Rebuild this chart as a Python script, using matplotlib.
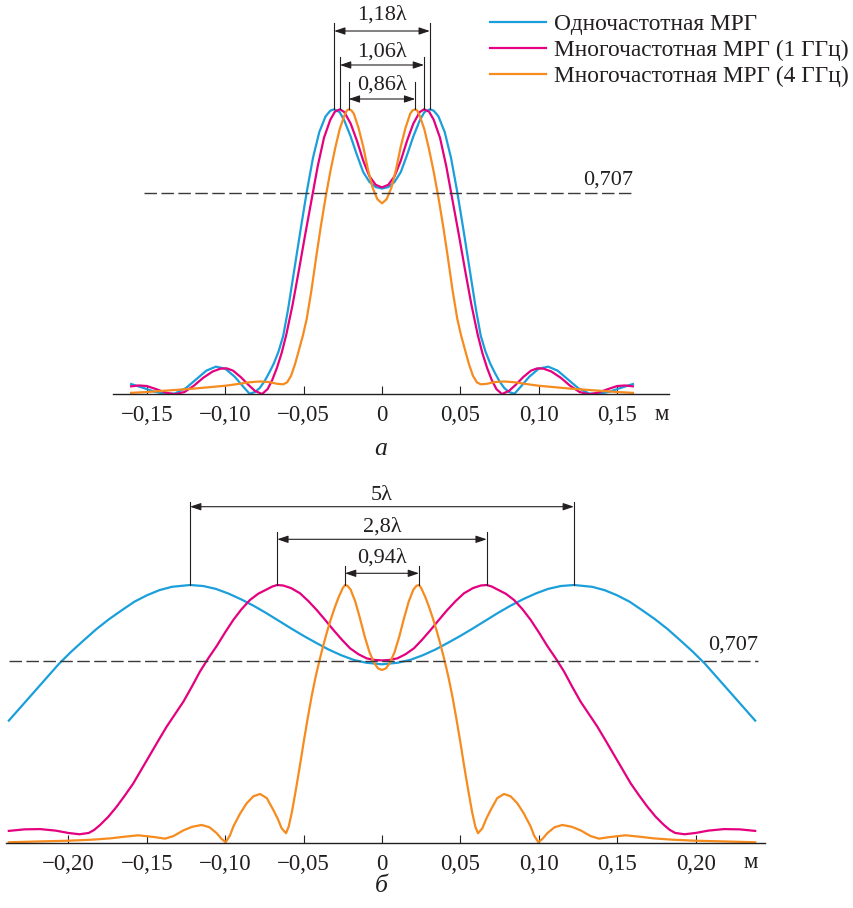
import numpy as np
import matplotlib
matplotlib.use('Agg')
import matplotlib.pyplot as plt

# ---------------- data ----------------
series_names = ['Одночастотная МРГ',
                'Многочастотная МРГ (1 ГГц)',
                'Многочастотная МРГ (4 ГГц)']

# panel "а"
a_single_x = [-0.160, -0.152, -0.145, -0.138, -0.132, -0.125, -0.118, -0.112, -0.106, -0.100,
              -0.094, -0.089, -0.0845, -0.081, -0.078, -0.075, -0.072, -0.069, -0.066, -0.063,
              -0.060, -0.056, -0.052, -0.048, -0.044, -0.040, -0.036, -0.033, -0.0305, -0.027,
              -0.024, -0.020, -0.016, -0.012, -0.008, -0.004, 0.000,
              0.004, 0.008, 0.012, 0.016, 0.020, 0.024, 0.027, 0.0305, 0.033, 0.036,
              0.040, 0.044, 0.048, 0.052, 0.056, 0.060, 0.063, 0.066, 0.069, 0.072,
              0.075, 0.078, 0.081, 0.0845, 0.089, 0.094, 0.100, 0.106, 0.112, 0.118,
              0.125, 0.132, 0.138, 0.145, 0.152, 0.160]
a_single_y = [0.036, 0.022, 0.009, 0.001, 0.003, 0.022, 0.055, 0.083, 0.097, 0.090,
              0.062, 0.030, 0.002, 0.008, 0.022, 0.045, 0.075, 0.108, 0.150, 0.205,
              0.295, 0.435, 0.575, 0.710, 0.830, 0.920, 0.975, 0.995, 1.000, 0.990,
              0.960, 0.905, 0.840, 0.780, 0.745, 0.727, 0.722,
              0.727, 0.745, 0.780, 0.840, 0.905, 0.960, 0.990, 1.000, 0.995, 0.975,
              0.920, 0.830, 0.710, 0.575, 0.435, 0.295, 0.205, 0.150, 0.108, 0.075,
              0.045, 0.022, 0.008, 0.002, 0.030, 0.062, 0.090, 0.097, 0.083, 0.055,
              0.022, 0.003, 0.001, 0.009, 0.022, 0.036]

a_multi1_x = [-0.160, -0.155, -0.150, -0.144, -0.138, -0.132, -0.126, -0.120, -0.114, -0.108,
              -0.103, -0.099, -0.095, -0.090, -0.085, -0.081, -0.0765, -0.073, -0.070, -0.067,
              -0.064, -0.061, -0.057, -0.053, -0.049, -0.045, -0.041, -0.037, -0.033, -0.030,
              -0.0268, -0.024, -0.020, -0.016, -0.012, -0.008, -0.004, 0.000,
              0.004, 0.008, 0.012, 0.016, 0.020, 0.024, 0.0268, 0.030, 0.033, 0.037,
              0.041, 0.045, 0.049, 0.053, 0.057, 0.061, 0.064, 0.067, 0.070, 0.073,
              0.0765, 0.081, 0.085, 0.090, 0.095, 0.099, 0.103, 0.108, 0.114, 0.120,
              0.126, 0.132, 0.138, 0.144, 0.150, 0.155, 0.160]
a_multi1_y = [0.028, 0.031, 0.029, 0.018, 0.006, 0.000, 0.008, 0.030, 0.058, 0.080,
              0.090, 0.091, 0.083, 0.060, 0.032, 0.012, 0.001, 0.018, 0.050, 0.093,
              0.145, 0.210, 0.315, 0.435, 0.560, 0.680, 0.800, 0.900, 0.963, 0.992,
              1.000, 0.990, 0.950, 0.890, 0.820, 0.765, 0.735, 0.726,
              0.735, 0.765, 0.820, 0.890, 0.950, 0.990, 1.000, 0.992, 0.963, 0.900,
              0.800, 0.680, 0.560, 0.435, 0.315, 0.210, 0.145, 0.093, 0.050, 0.018,
              0.001, 0.012, 0.032, 0.060, 0.083, 0.091, 0.090, 0.080, 0.058, 0.030,
              0.008, 0.000, 0.006, 0.018, 0.029, 0.031, 0.028]

a_multi4_x = [-0.160, -0.150, -0.140, -0.130, -0.120, -0.110, -0.100, -0.092, -0.085, -0.078,
              -0.072, -0.067, -0.063, -0.0605, -0.058, -0.0555, -0.053, -0.0505, -0.048, -0.045,
              -0.042, -0.039, -0.036, -0.033, -0.030, -0.027, -0.024, -0.0225, -0.0212, -0.0195,
              -0.018, -0.015, -0.012, -0.009, -0.006, -0.003, 0.000,
              0.003, 0.006, 0.009, 0.012, 0.015, 0.018, 0.0195, 0.0212, 0.0225, 0.024,
              0.027, 0.030, 0.033, 0.036, 0.039, 0.042, 0.045, 0.048, 0.0505, 0.053,
              0.0555, 0.058, 0.0605, 0.063, 0.067, 0.072, 0.078, 0.085, 0.092, 0.100,
              0.110, 0.120, 0.130, 0.140, 0.150, 0.160]
a_multi4_y = [0.005, 0.008, 0.012, 0.016, 0.020, 0.025, 0.030, 0.036, 0.042, 0.045,
              0.043, 0.037, 0.035, 0.042, 0.065, 0.105, 0.155, 0.205, 0.265, 0.365,
              0.480, 0.590, 0.690, 0.780, 0.860, 0.930, 0.978, 0.995, 1.000, 0.996,
              0.985, 0.935, 0.870, 0.790, 0.725, 0.685, 0.670,
              0.685, 0.725, 0.790, 0.870, 0.935, 0.985, 0.996, 1.000, 0.995, 0.978,
              0.930, 0.860, 0.780, 0.690, 0.590, 0.480, 0.365, 0.265, 0.205, 0.155,
              0.105, 0.065, 0.042, 0.035, 0.037, 0.043, 0.045, 0.042, 0.036, 0.030,
              0.025, 0.020, 0.016, 0.012, 0.008, 0.005]

# panel "б"
b_single_x = [-0.238, -0.230, -0.222, -0.214, -0.206, -0.198, -0.190, -0.182, -0.174, -0.166,
              -0.158, -0.150, -0.142, -0.134, -0.1224, -0.114, -0.106, -0.098, -0.090, -0.082,
              -0.074, -0.066, -0.058, -0.050, -0.042, -0.034, -0.026, -0.018, -0.010, 0.000,
              0.010, 0.018, 0.026, 0.034, 0.042, 0.050, 0.058, 0.066, 0.074, 0.082,
              0.090, 0.098, 0.106, 0.114, 0.1224, 0.134, 0.142, 0.150, 0.158, 0.166,
              0.174, 0.182, 0.190, 0.198, 0.206, 0.214, 0.222, 0.230, 0.238]
b_single_y = [0.475, 0.530, 0.585, 0.640, 0.695, 0.743, 0.787, 0.830, 0.868, 0.902,
              0.935, 0.960, 0.980, 0.993, 1.000, 0.996, 0.985, 0.967, 0.945, 0.920,
              0.892, 0.862, 0.832, 0.803, 0.776, 0.750, 0.728, 0.710, 0.699, 0.693,
              0.699, 0.710, 0.728, 0.750, 0.776, 0.803, 0.832, 0.862, 0.892, 0.920,
              0.945, 0.967, 0.985, 0.996, 1.000, 0.993, 0.980, 0.960, 0.935, 0.902,
              0.868, 0.830, 0.787, 0.743, 0.695, 0.640, 0.585, 0.530, 0.475]

b_multi1_x = [-0.238, -0.228, -0.218, -0.208, -0.200, -0.193, -0.187, -0.1835, -0.1798, -0.1745,
              -0.1692, -0.164, -0.1586, -0.1533, -0.148, -0.1427, -0.1373, -0.132, -0.1267, -0.1214,
              -0.1161, -0.1108, -0.1054, -0.100, -0.0948, -0.0895, -0.0842, -0.079, -0.0735, -0.070,
              -0.0668, -0.063, -0.058, -0.0523, -0.047, -0.0416, -0.0363, -0.031, -0.0257, -0.0204,
              -0.015, -0.0098, -0.005, 0.000,
              0.005, 0.0098, 0.015, 0.0204, 0.0257, 0.031, 0.0363, 0.0416, 0.047, 0.0523,
              0.058, 0.063, 0.0668, 0.070, 0.0735, 0.079, 0.0842, 0.0895, 0.0948, 0.100,
              0.1054, 0.1108, 0.1161, 0.1214, 0.1267, 0.132, 0.1373, 0.1427, 0.148, 0.1533,
              0.1586, 0.164, 0.1692, 0.1745, 0.1798, 0.1835, 0.187, 0.193, 0.200, 0.208,
              0.218, 0.228, 0.238]
b_multi1_y = [0.048, 0.054, 0.055, 0.049, 0.040, 0.035, 0.040, 0.052, 0.071, 0.103,
              0.142, 0.185, 0.232, 0.287, 0.342, 0.397, 0.452, 0.500, 0.548, 0.605,
              0.665, 0.716, 0.764, 0.817, 0.865, 0.907, 0.942, 0.966, 0.983, 0.994,
              1.000, 0.998, 0.988, 0.968, 0.938, 0.903, 0.865, 0.826, 0.789, 0.755,
              0.732, 0.716, 0.710, 0.708,
              0.710, 0.716, 0.732, 0.755, 0.789, 0.826, 0.865, 0.903, 0.938, 0.968,
              0.988, 0.998, 1.000, 0.994, 0.983, 0.966, 0.942, 0.907, 0.865, 0.817,
              0.764, 0.716, 0.665, 0.605, 0.548, 0.500, 0.452, 0.397, 0.342, 0.287,
              0.232, 0.185, 0.142, 0.103, 0.071, 0.052, 0.040, 0.035, 0.040, 0.049,
              0.055, 0.054, 0.048]

b_multi4_x = [-0.238, -0.220, -0.200, -0.185, -0.1735, -0.165, -0.1554, -0.145, -0.1384, -0.133,
              -0.1267, -0.121, -0.115, -0.110, -0.1054, -0.1025, -0.0997, -0.097, -0.0948, -0.0905,
              -0.0863, -0.082, -0.0778, -0.0735, -0.0693, -0.0665, -0.064, -0.0612, -0.0595, -0.0575,
              -0.055, -0.0525, -0.050, -0.0475, -0.045, -0.0425, -0.040, -0.0375, -0.035, -0.0325,
              -0.030, -0.0275, -0.025, -0.0236, -0.022, -0.020, -0.017, -0.014, -0.011, -0.008,
              -0.005, -0.0025, 0.000,
              0.0025, 0.005, 0.008, 0.011, 0.014, 0.017, 0.020, 0.022, 0.0236, 0.025,
              0.0275, 0.030, 0.0325, 0.035, 0.0375, 0.040, 0.0425, 0.045, 0.0475, 0.050,
              0.0525, 0.055, 0.0575, 0.0595, 0.0612, 0.064, 0.0665, 0.0693, 0.0735, 0.0778,
              0.082, 0.0863, 0.0905, 0.0948, 0.097, 0.0997, 0.1025, 0.1054, 0.110, 0.115,
              0.121, 0.1267, 0.133, 0.1384, 0.145, 0.1554, 0.165, 0.1735, 0.185, 0.200,
              0.220, 0.238]
b_multi4_y = [0.004, 0.007, 0.010, 0.014, 0.019, 0.025, 0.031, 0.024, 0.018, 0.028,
              0.050, 0.064, 0.071, 0.062, 0.039, 0.018, 0.004, 0.030, 0.065, 0.115,
              0.155, 0.182, 0.191, 0.175, 0.129, 0.095, 0.058, 0.039, 0.065, 0.120,
              0.205, 0.295, 0.390, 0.480, 0.565, 0.640, 0.705, 0.765, 0.820, 0.870,
              0.915, 0.955, 0.988, 1.000, 0.997, 0.982, 0.935, 0.870, 0.800, 0.740,
              0.698, 0.677, 0.671,
              0.677, 0.698, 0.740, 0.800, 0.870, 0.935, 0.982, 0.997, 1.000, 0.988,
              0.955, 0.915, 0.870, 0.820, 0.765, 0.705, 0.640, 0.565, 0.480, 0.390,
              0.295, 0.205, 0.120, 0.065, 0.039, 0.058, 0.095, 0.129, 0.175, 0.191,
              0.182, 0.155, 0.115, 0.065, 0.030, 0.004, 0.018, 0.039, 0.062, 0.071,
              0.064, 0.050, 0.028, 0.018, 0.024, 0.031, 0.025, 0.019, 0.014, 0.010,
              0.007, 0.004]

level = 0.707
level_label = '0,707'
a_ticks = [-0.15, -0.10, -0.05, 0.0, 0.05, 0.10, 0.15]
a_tick_labels = ['−0,15', '−0,10', '−0,05', '0', '0,05', '0,10', '0,15']
b_ticks = [-0.20, -0.15, -0.10, -0.05, 0.0, 0.05, 0.10, 0.15, 0.20]
b_tick_labels = ['−0,20', '−0,15', '−0,10', '−0,05', '0', '0,05', '0,10', '0,15', '0,20']
a_span_labels = ['1,18λ', '1,06λ', '0,86λ']
b_span_labels = ['5λ', '2,8λ', '0,94λ']
unit_label = 'м'
panel_labels = ['а', 'б']

# ---------------- style ----------------
plt.rcParams['font.family'] = ['Liberation Serif', 'DejaVu Serif']
plt.rcParams['lines.scale_dashes'] = False
INK = '#231f20'
GREY = '#3a3a3a'
colors = ['#1a9fdb', '#e4007f', '#f68b1f']
FS_TICK = 16.5
FS_ANN = 16
FS_LEG = 16.8

W, H = 854, 908
fig = plt.figure(figsize=(W / 100, H / 100), dpi=100)

X0, SX = 382.0, 1568.0


def px2x(px):
    return (px - X0) / SX


def setup_axis(ax, base, unit, top_px, ticks, labels, x_lo_px, x_hi_px):
    ax.set_xlim(px2x(0), px2x(W))
    ax.set_ylim(0, (base - top_px) / unit)
    for s in ['top', 'left', 'right']:
        ax.spines[s].set_visible(False)
    ax.spines['bottom'].set_bounds(px2x(x_lo_px), px2x(x_hi_px))
    ax.spines['bottom'].set_color(INK)
    ax.spines['bottom'].set_linewidth(1.0)
    ax.set_yticks([])
    ax.set_xticks(ticks, labels)
    ax.tick_params(axis='x', direction='in', length=5.5, width=0.8, color=INK,
                   labelsize=FS_TICK, labelcolor=INK, pad=7.5)
    ax.patch.set_visible(False)


def annotate_spans(ax, curves, span_labels, base, unit, tops_px, arrows_px, texts_px):
    for (xs, ys), lab, tp, ap, tx in zip(curves, span_labels, tops_px, arrows_px, texts_px):
        xs = np.asarray(xs)
        ys = np.asarray(ys)
        left = xs < 0
        right = xs > 0
        xl = xs[left][np.argmax(ys[left])]
        yl = ys[left].max()
        xr = xs[right][np.argmax(ys[right])]
        yr = ys[right].max()
        ytop = (base - tp) / unit
        yarr = (base - ap) / unit
        ytxt = (base - tx) / unit
        ax.plot([xl, xl], [yl, ytop], color=INK, lw=0.8, clip_on=False)
        ax.plot([xr, xr], [yr, ytop], color=INK, lw=0.8, clip_on=False)
        ax.annotate('', xy=(xr, yarr), xytext=(xl, yarr),
                    arrowprops=dict(arrowstyle='<|-|>,head_length=0.65,head_width=0.22',
                                    color=INK, lw=0.8, mutation_scale=10,
                                    shrinkA=0, shrinkB=0), annotation_clip=False)
        ax.text((xl + xr) / 2, ytxt, lab, ha='center', va='center', fontsize=FS_ANN,
                color=INK)


# ---------------- panel а ----------------
base_a, unit_a = 394.3, 285.0
ax_a = fig.add_axes([0, (H - base_a) / H, 1, base_a / H])
setup_axis(ax_a, base_a, unit_a, 0, a_ticks, a_tick_labels, 113, 669)
a_curves = [(a_single_x, a_single_y), (a_multi1_x, a_multi1_y), (a_multi4_x, a_multi4_y)]
handles = []
for (xs, ys), c, name in zip(a_curves, colors, series_names):
    h, = ax_a.plot(xs, ys, color=c, lw=1.6, solid_joinstyle='round', label=name)
    handles.append(h)
ax_a.hlines(level, px2x(144), px2x(633), colors=GREY, lw=1.0, linestyles=(0, (9, 3.2)))
ax_a.text(px2x(633.5), (base_a - 180.5) / unit_a, level_label, ha='right', va='center',
          fontsize=FS_ANN, color=INK)
annotate_spans(ax_a, a_curves, a_span_labels, base_a, unit_a,
               [23.3, 57.3, 81.7], [31, 65, 99], [15, 51.7, 85])
leg = ax_a.legend(handles=handles, loc='upper left', bbox_to_anchor=(490 / W, 1 - 13.5 / H),
                  bbox_transform=fig.transFigure, frameon=False, fontsize=FS_LEG,
                  handlelength=2.4, handletextpad=0.34, labelspacing=0.2,
                  borderpad=0, borderaxespad=0)
for t in leg.get_texts():
    t.set_color(INK)
fig.text(662 / W, 1 - 414 / H, unit_label, ha='center', va='center', fontsize=FS_TICK,
         color=INK)
fig.text(381 / W, 1 - 449 / H, panel_labels[0], ha='center', va='center', fontsize=FS_TICK + 2,
         style='italic', color=INK)

# ---------------- panel б ----------------
base_b, unit_b = 843.3, 258.3
ax_b = fig.add_axes([0, (H - base_b) / H, 1, (base_b - 470) / H])
setup_axis(ax_b, base_b, unit_b, 470, b_ticks, b_tick_labels, 6, 765)
b_curves = [(b_single_x, b_single_y), (b_multi1_x, b_multi1_y), (b_multi4_x, b_multi4_y)]
for (xs, ys), c in zip(b_curves, colors):
    ax_b.plot(xs, ys, color=c, lw=1.6, solid_joinstyle='round')
ax_b.hlines(level, px2x(9), px2x(758), colors=GREY, lw=1.0, linestyles=(0, (9, 3.2)))
ax_b.text(px2x(758), (base_b - 645) / unit_b, level_label, ha='right', va='center',
          fontsize=FS_ANN, color=INK)
annotate_spans(ax_b, b_curves, b_span_labels, base_b, unit_b,
               [501.7, 532.3, 565.7], [506.7, 539.3, 573.3], [495.7, 526.7, 558.3])
fig.text(751 / W, 1 - 862 / H, unit_label, ha='center', va='center', fontsize=FS_TICK,
         color=INK)
fig.text(381 / W, 1 - 886 / H, panel_labels[1], ha='center', va='center', fontsize=FS_TICK + 2,
         style='italic', color=INK)

fig.savefig('out.png', dpi=100)
